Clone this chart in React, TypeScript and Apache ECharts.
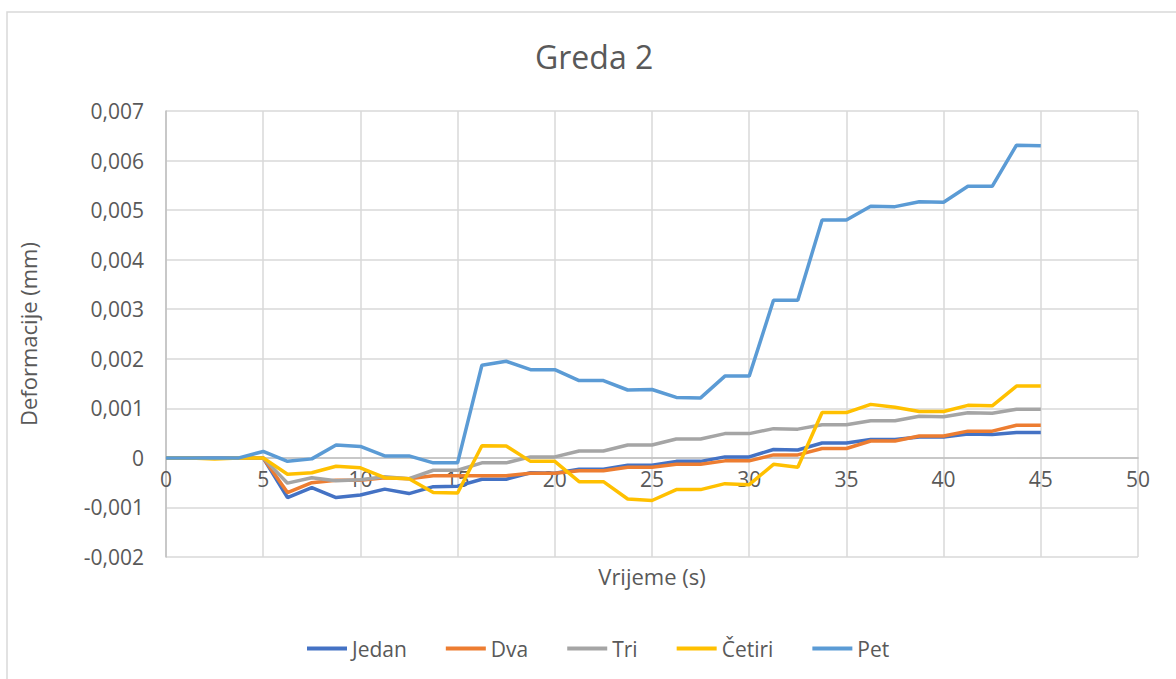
import React, { useEffect, useRef } from "react";
import * as echarts from "echarts";

const time = [0, 1.25, 2.5, 3.75, 5, 6.25, 7.5, 8.75, 10, 11.25, 12.5, 13.75, 15, 16.25, 17.5, 18.75, 20, 21.25, 22.5, 23.75, 25, 26.25, 27.5, 28.75, 30, 31.25, 32.5, 33.75, 35, 36.25, 37.5, 38.75, 40, 41.25, 42.5, 43.75, 45];

const jedan = [0, 0, 0, 0, 0, -0.0008, -0.0006, -0.0008, -0.00075, -0.00063, -0.00072, -0.00058, -0.00057, -0.00043, -0.00043, -0.0003, -0.00031, -0.00023, -0.00023, -0.00015, -0.00015, -0.00007, -0.00007, 0.00002, 0.00002, 0.00017, 0.00016, 0.0003, 0.0003, 0.00037, 0.00037, 0.00042, 0.00042, 0.00048, 0.00047, 0.00051, 0.00051];
const dva = [0, 0, 0, 0, 0, -0.0007, -0.0005, -0.00045, -0.00045, -0.0004, -0.00042, -0.00036, -0.00036, -0.00036, -0.00036, -0.00031, -0.00031, -0.00026, -0.00026, -0.00019, -0.00019, -0.00013, -0.00013, -0.00006, -0.00006, 0.00006, 0.00006, 0.00019, 0.00019, 0.00034, 0.00034, 0.00044, 0.00044, 0.00054, 0.00054, 0.00066, 0.00066];
const tri = [0, 0, 0, 0, 0, -0.00051, -0.0004, -0.00046, -0.00044, -0.00038, -0.00042, -0.00025, -0.00025, -0.0001, -0.0001, 0.00002, 0.00002, 0.00014, 0.00014, 0.00026, 0.00026, 0.00038, 0.00038, 0.00049, 0.00049, 0.00059, 0.00058, 0.00067, 0.00067, 0.00075, 0.00075, 0.00084, 0.00083, 0.00091, 0.0009, 0.00098, 0.00098];
const cetiri = [0, 0, -0.00002, 0, 0, -0.00033, -0.0003, -0.00017, -0.0002, -0.0004, -0.00042, -0.0007, -0.00071, 0.000245, 0.00024, -0.00007, -0.00007, -0.00048, -0.00048, -0.00083, -0.00086, -0.00064, -0.00064, -0.00052, -0.00054, -0.00013, -0.00019, 0.000915, 0.000915, 0.00108, 0.00102, 0.000935, 0.000935, 0.00106, 0.00105, 0.00145, 0.00145];
const pet = [0, 0, 0, 0, 0.00013, -0.00007, -0.00002, 0.00026, 0.00023, 0.00004, 0.00004, -0.0001, -0.0001, 0.00187, 0.00195, 0.00178, 0.00178, 0.00156, 0.00156, 0.00137, 0.00138, 0.00122, 0.00121, 0.00165, 0.00165, 0.00318, 0.00318, 0.0048, 0.0048, 0.00508, 0.00507, 0.00517, 0.00516, 0.00548, 0.00548, 0.00631, 0.0063];

const seriesNames = ["Jedan", "Dva", "Tri", "Četiri", "Pet"];
const seriesData = [jedan, dva, tri, cetiri, pet];
const colors = ["#4472C4", "#ED7D31", "#A5A5A5", "#FFC000", "#5B9BD5"];

const FONT = "'Open Sans', 'Noto Sans', sans-serif";
const TXT = "#595959";

const Y_MIN = -0.002;
const Y_MAX = 0.007;
const GRID_TOP = 111;
const GRID_BOTTOM = 122;
const H = 679;

export default function App() {
  const ref = useRef<HTMLDivElement>(null);
  useEffect(() => {
    document.body.style.margin = "0";
    if (!ref.current) return;
    const chart = echarts.init(ref.current, null, { renderer: "svg" });
    const gridH = H - GRID_TOP - GRID_BOTTOM;
    const zeroOffset = -gridH * ((0 - Y_MIN) / (Y_MAX - Y_MIN));
    chart.setOption({
      animation: false,
      backgroundColor: "#ffffff",
      title: {
        text: "Greda 2",
        left: 530,
        top: 35,
        textStyle: { fontFamily: FONT, fontSize: 32, fontWeight: "normal", color: TXT },
      },
      graphic: [
        {
          type: "rect",
          shape: { x: 7, y: 12, width: 1300, height: 800 },
          style: { fill: "none", stroke: "#d9d9d9", lineWidth: 1.5 },
          silent: true,
        },
      ],
      legend: {
        bottom: 15,
        left: 302,
        icon: "rect",
        itemWidth: 40,
        itemHeight: 4,
        itemGap: 39,
        textStyle: { fontFamily: FONT, fontSize: 21, color: TXT },
        data: seriesNames,
      },
      grid: { left: 166, right: 38, top: GRID_TOP, bottom: GRID_BOTTOM, outerBoundsMode: "none", containLabel: false },
      xAxis: {
        type: "value",
        min: 0,
        max: 50,
        interval: 5,
        offset: zeroOffset,
        name: "Vrijeme (s)",
        nameLocation: "middle",
        nameGap: 107,
        nameTextStyle: { fontFamily: FONT, fontSize: 22, color: TXT },
        axisLine: { onZero: false, lineStyle: { color: "#bfbfbf", width: 1.5 } },
        axisTick: { show: false },
        axisLabel: { fontFamily: FONT, fontSize: 21, color: TXT, margin: 11 },
        splitLine: { show: true, lineStyle: { color: "#d9d9d9", width: 1.5 } },
      },
      yAxis: {
        type: "value",
        min: Y_MIN,
        max: Y_MAX,
        interval: 0.001,
        name: "Deformacije (mm)",
        nameLocation: "middle",
        nameRotate: 90,
        nameGap: 127,
        nameTextStyle: { fontFamily: FONT, fontSize: 22, color: TXT },
        axisLine: { show: true, lineStyle: { color: "#bfbfbf", width: 1.5 } },
        axisTick: { show: false },
        axisLabel: {
          fontFamily: FONT,
          fontSize: 21,
          color: TXT,
          margin: 22,
          formatter: (v: number) => (Math.abs(v) < 1e-9 ? "0" : v.toFixed(3).replace(".", ",")),
        },
        splitLine: { show: true, lineStyle: { color: "#d9d9d9", width: 1.5 } },
      },
      series: seriesNames.map((name, k) => ({
        name,
        type: "line",
        symbol: "none",
        showSymbol: false,
        color: colors[k],
        itemStyle: { color: colors[k] },
        lineStyle: { width: 3.5, color: colors[k] },
        data: time.map((t, i) => [t, seriesData[k][i]]),
      })),
    });
    return () => chart.dispose();
  }, []);
  return <div ref={ref} style={{ width: 1176, height: 679 }} />;
}
